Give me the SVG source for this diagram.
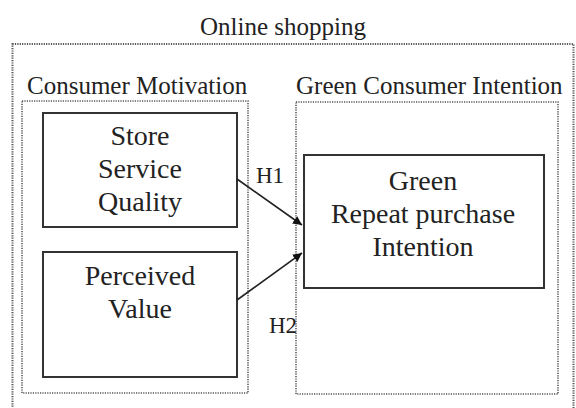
<svg xmlns="http://www.w3.org/2000/svg" width="576" height="408" viewBox="0 0 576 408">
<defs>
<style>
.dot{fill:none;stroke:#555;stroke-width:1.6;stroke-dasharray:1.2 1.2;}
.box{fill:#fff;stroke:#333;stroke-width:2;}
.c{fill:none;stroke:#222;stroke-width:1.6;}
</style>
<marker id="ah" viewBox="0 0 10 10" refX="10" refY="5" markerWidth="9" markerHeight="9" markerUnits="userSpaceOnUse" orient="auto">
<path d="M0,0 L10,5 L0,10 z" fill="#111"/>
</marker>
</defs>
<rect width="576" height="408" fill="#fff"/>
<g id="online-shopping">
<rect class="dot" x="12.5" y="44" width="561" height="380" style="stroke-width:2"/>
<text x="200" y="35" style="font-family:'Liberation Serif',serif" font-size="25" fill="#222">Online shopping</text>
</g>
<g id="consumer-motivation">
<rect class="dot" x="22" y="101" width="226" height="292"/>
<text x="27" y="94" style="font-family:'Liberation Serif',serif" font-size="25" fill="#222">Consumer Motivation</text>
</g>
<g id="green-consumer-intention">
<rect class="dot" x="296" y="102" width="262" height="292"/>
<text x="296" y="94" style="font-family:'Liberation Serif',serif" font-size="25" fill="#222">Green Consumer Intention</text>
</g>
<g id="store-service-quality" style="font-family:'Liberation Serif',serif" font-size="28" fill="#222" text-anchor="middle">
<rect class="box" x="43" y="113" width="194" height="114"/>
<text x="140" y="145">Store</text>
<text x="140" y="178">Service</text>
<text x="140" y="211">Quality</text>
</g>
<g id="perceived-value" style="font-family:'Liberation Serif',serif" font-size="28" fill="#222" text-anchor="middle">
<rect class="box" x="43" y="252" width="194" height="125"/>
<text x="140" y="285">Perceived</text>
<text x="140" y="318">Value</text>
</g>
<g id="green-repeat-purchase-intention" style="font-family:'Liberation Serif',serif" font-size="28" fill="#222" text-anchor="middle">
<rect class="box" x="304" y="155" width="240" height="133"/>
<text x="423" y="190">Green</text>
<text x="423" y="223">Repeat purchase</text>
<text x="423" y="256">Intention</text>
</g>
<g id="connectors">
<line class="c" x1="237" y1="179" x2="302" y2="225" marker-end="url(#ah)"/>
<line class="c" x1="237" y1="300" x2="302" y2="253" marker-end="url(#ah)"/>
<text x="256" y="183" style="font-family:'Liberation Serif',serif" font-size="23" fill="#222">H1</text>
<text x="269" y="333" style="font-family:'Liberation Serif',serif" font-size="23" fill="#222">H2</text>
</g>
</svg>
